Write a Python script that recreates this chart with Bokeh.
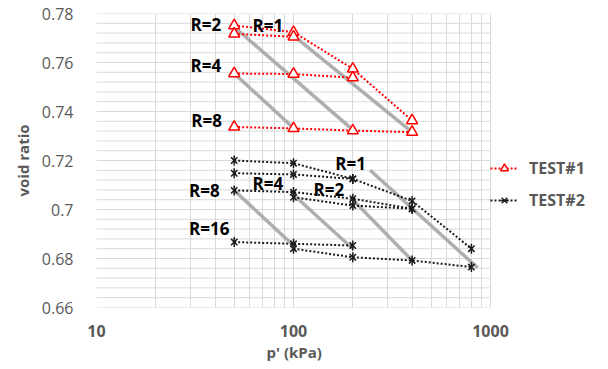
from bokeh.plotting import figure
from bokeh.models import FixedTicker, ColumnDataSource, Legend, Title
from bokeh.core.properties import value
from bokeh.embed import file_html
from bokeh.resources import INLINE
import math

# ---------------- data ----------------
# TEST#1 dotted series (p' kPa, void ratio)
t1_series = [
    ([50, 100, 200, 400], [0.7751, 0.7724, 0.7574, 0.7363]),
    ([50, 100], [0.7717, 0.7705]),
    ([50, 100, 200], [0.7555, 0.7553, 0.7538]),
    ([50, 100, 200, 400], [0.7337, 0.7331, 0.7322, 0.7316]),
]
# TEST#2 dotted series
t2_series = [
    ([50, 100, 200, 400, 800], [0.7200, 0.7189, 0.7125, 0.7035, 0.6840]),
    ([50, 100, 200], [0.7148, 0.7143, 0.7125]),
    ([50, 100, 200, 400], [0.7078, 0.7071, 0.7044, 0.7003]),
    ([100, 200, 400], [0.7050, 0.7016, 0.7003]),
    ([50, 100, 200], [0.6867, 0.6860, 0.6853]),
    ([100, 200, 400, 800], [0.6840, 0.6805, 0.6792, 0.6765]),
]
# grey solid reference lines
grey_lines = [
    ([50, 200], [0.7745, 0.7325]),
    ([100, 400], [0.7710, 0.7316]),
    ([50, 100], [0.7555, 0.7333]),
    ([50, 100], [0.7078, 0.6853]),
    ([100, 200], [0.7060, 0.6840]),
    ([200, 400], [0.7040, 0.6792]),
    ([245, 860], [0.7160, 0.6762]),
]
# R labels
r_text = ["R=2", "R=1", "R=4", "R=8", "R=1", "R=8", "R=4", "R=2", "R=16"]
r_x = [30.0, 61.9, 30.0, 30.3, 163.0, 29.5, 61.9, 126.3, 29.5]
r_y = [0.7755, 0.7751, 0.7588, 0.7363, 0.7189, 0.7078, 0.7106, 0.7082, 0.6922]

x_min, x_max = 10, 1000
x_ticks = [10, 100, 1000]
x_minor = [20, 30, 40, 50, 60, 70, 80, 90, 200, 300, 400, 500, 600, 700, 800, 900]
y_ticks = [0.66, 0.68, 0.70, 0.72, 0.74, 0.76, 0.78]
y_tick_labels = ["0.66", "0.68", "0.7", "0.72", "0.74", "0.76", "0.78"]
y_minor = [round(0.66 + 0.004 * i, 3) for i in range(31)]

# ---------------- layout geometry ----------------
W, H = 600, 361
left, top, bottom = 96, 13, 54
plot_w = 394          # width used by the 10..1000 decades
frame_w = W - left    # frame extends to the right edge (room for the legend)
x_end = 10 ** (math.log10(x_min) + (math.log10(x_max) - math.log10(x_min)) * frame_w / plot_w)

p = figure(width=W, height=H, x_axis_type="log", x_range=(x_min, x_end), y_range=(0.66, 0.78),
           output_backend="svg", toolbar_location=None,
           min_border_left=left, min_border_right=0, min_border_top=top, min_border_bottom=bottom)
p.outline_line_color = None
p.border_fill_color = "white"

grid_col = "#d9d9d9"
p.xaxis.ticker = FixedTicker(ticks=x_ticks, minor_ticks=x_minor)
p.yaxis.ticker = FixedTicker(ticks=y_ticks, minor_ticks=y_minor)
p.yaxis.major_label_overrides = {t: l for t, l in zip(y_ticks, y_tick_labels)}
p.xaxis.major_label_overrides = {t: str(t) for t in x_ticks}
p.xgrid.grid_line_color = grid_col
p.xgrid.minor_grid_line_color = grid_col
p.ygrid.grid_line_color = None
p.ygrid.minor_grid_line_color = None
# horizontal grid limited to the 10..1000 span
hg = p.segment(x0=[x_min] * len(y_minor), x1=[x_max] * len(y_minor), y0=y_minor, y1=y_minor,
               line_color=grid_col, line_width=1)
hg.level = "underlay"

for ax in p.axis:
    ax.axis_line_color = None
    ax.major_tick_line_color = None
    ax.minor_tick_line_color = None
    ax.major_tick_out = 0
    ax.major_tick_in = 0
    ax.minor_tick_out = 0
    ax.major_label_text_color = "#595959"
    ax.major_label_text_font = "Open Sans"
    ax.major_label_text_font_size = "16px"
    ax.axis_label_text_color = "#595959"
    ax.axis_label_text_font = "Open Sans"
    ax.axis_label_text_font_style = "bold"
    ax.axis_label_text_font_size = "15px"

p.xaxis.major_label_text_font_style = "bold"
p.yaxis.axis_label = "void ratio"
p.yaxis.major_label_standoff = 23
p.yaxis.axis_label_standoff = 6
p.xaxis.major_label_standoff = 17

xt = Title(text="p' (kPa)", align="left", offset=170, standoff=0, text_font="Open Sans",
           text_font_style="bold", text_font_size="15px", text_color="#595959")
p.add_layout(xt, "below")

# grey lines
for xs, ys in grey_lines:
    p.line(xs, ys, line_color="#a6a6a6", line_width=3.5, line_alpha=0.9)

# TEST#1
red = "#ff0000"
r1 = []
for xs, ys in t1_series:
    r1.append(p.line(xs, ys, line_color=red, line_width=2, line_dash="2 2"))
for xs, ys in t1_series:
    r1.append(p.scatter(xs, ys, marker="triangle", size=11, line_color=red, fill_color="white",
                        line_width=1.5))

# TEST#2
blk = "#1a1a1a"
r2 = []
for xs, ys in t2_series:
    r2.append(p.line(xs, ys, line_color=blk, line_width=2, line_dash="2 2"))
for xs, ys in t2_series:
    r2.append(p.scatter(xs, ys, marker="x", size=9, line_color=blk, line_width=1.5))
    r2.append(p.scatter(xs, ys, marker="dash", angle=math.pi / 2, size=10, line_color=blk,
                        line_width=1.5))

# R labels
src = ColumnDataSource(dict(x=r_x, y=r_y, t=r_text))
p.text(x="x", y="y", text="t", source=src, text_font=value("Open Sans"), text_font_style="bold",
       text_font_size="17px", text_color="black", text_align="left", text_baseline="middle")

lg = Legend(items=[("TEST#1", [r1[0], r1[len(t1_series)]]),
                   ("TEST#2", [r2[0], r2[len(t2_series)], r2[len(t2_series) + 1]])])
lg.location = (394, 96)
lg.margin = 0
lg.padding = 7
lg.spacing = 10
lg.glyph_width = 28
lg.glyph_height = 20
lg.label_standoff = 11
lg.border_line_color = None
lg.background_fill_alpha = 0
lg.label_text_font = "Open Sans"
lg.label_text_font_style = "bold"
lg.label_text_font_size = "16px"
lg.label_text_color = "#595959"
p.add_layout(lg, "center")

open("out.html", "w").write(file_html(p, INLINE))
